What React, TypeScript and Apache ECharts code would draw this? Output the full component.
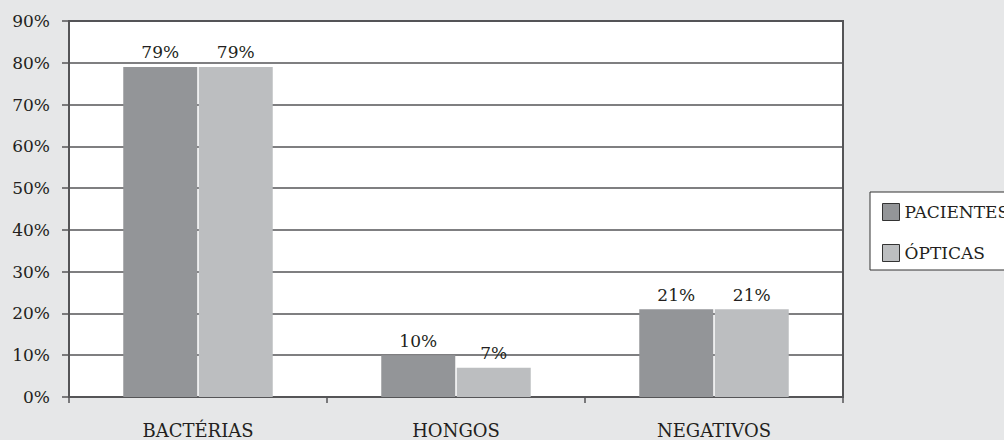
import React, { useEffect, useRef } from "react";
import * as echarts from "echarts";

const categories = ["BACTÉRIAS", "HONGOS", "NEGATIVOS"];
const pacientes = [79, 10, 21];
const opticas = [79, 7, 21];
const seriesNames = ["PACIENTES", "ÓPTICAS"];

const FONT = "'DejaVu Serif', serif";
const TEXT = "#231f20";
const LINE = "#555557";

export default function App() {
  const ref = useRef<HTMLDivElement>(null);
  useEffect(() => {
    if (!ref.current) return;
    const chart = echarts.init(ref.current, null, { renderer: "svg" });
    const labelCfg = {
      show: true,
      position: "top",
      distance: 6,
      formatter: (p: any) => p.value + "%",
      fontFamily: FONT,
      fontSize: 17,
      color: TEXT,
    };
    chart.setOption({
      animation: false,
      backgroundColor: "#e6e7e8",
      textStyle: { fontFamily: FONT, color: TEXT },
      grid: {
        left: 69,
        right: 161,
        top: 21,
        bottom: 43,
        show: true,
        backgroundColor: "#ffffff",
        borderColor: LINE,
        borderWidth: 2,
      },
      legend: {
        orient: "vertical",
        left: 870,
        top: 192,
        padding: [11, 12, 8, 12],
        itemWidth: 17,
        itemHeight: 17,
        itemGap: 23,
        icon: "rect",
        backgroundColor: "#ffffff",
        borderColor: "#333333",
        borderWidth: 1,
        borderRadius: 0,
        textStyle: { fontFamily: FONT, fontSize: 17, color: TEXT },
        itemStyle: { borderColor: "#333333", borderWidth: 1 },
        data: seriesNames,
      },
      xAxis: {
        type: "category",
        data: categories,
        axisLine: { show: true, lineStyle: { color: LINE, width: 2 } },
        axisTick: { show: true, length: 6, lineStyle: { color: LINE, width: 1.5 } },
        axisLabel: { fontFamily: FONT, fontSize: 18, color: TEXT, margin: 24 },
      },
      yAxis: {
        type: "value",
        min: 0,
        max: 90,
        interval: 10,
        axisLine: { show: true, lineStyle: { color: LINE, width: 2 } },
        axisTick: { show: true, length: 7, lineStyle: { color: LINE, width: 1.5 } },
        axisLabel: {
          fontFamily: FONT,
          fontSize: 17,
          color: TEXT,
          margin: 19,
          formatter: (v: number) => v + "%",
        },
        splitLine: { show: true, lineStyle: { color: LINE, width: 1.5 } },
      },
      series: [
        {
          name: seriesNames[0],
          type: "bar",
          data: pacientes,
          barWidth: 74,
          barGap: "2%",
          itemStyle: { color: "#939598" },
          label: labelCfg,
        },
        {
          name: seriesNames[1],
          type: "bar",
          data: opticas,
          barWidth: 74,
          barGap: "2%",
          itemStyle: { color: "#bcbec0" },
          label: labelCfg,
        },
      ],
    });
    return () => chart.dispose();
  }, []);
  return (
    <div
      ref={ref}
      style={{ position: "absolute", left: 0, top: 0, width: 1004, height: 440 }}
    />
  );
}
